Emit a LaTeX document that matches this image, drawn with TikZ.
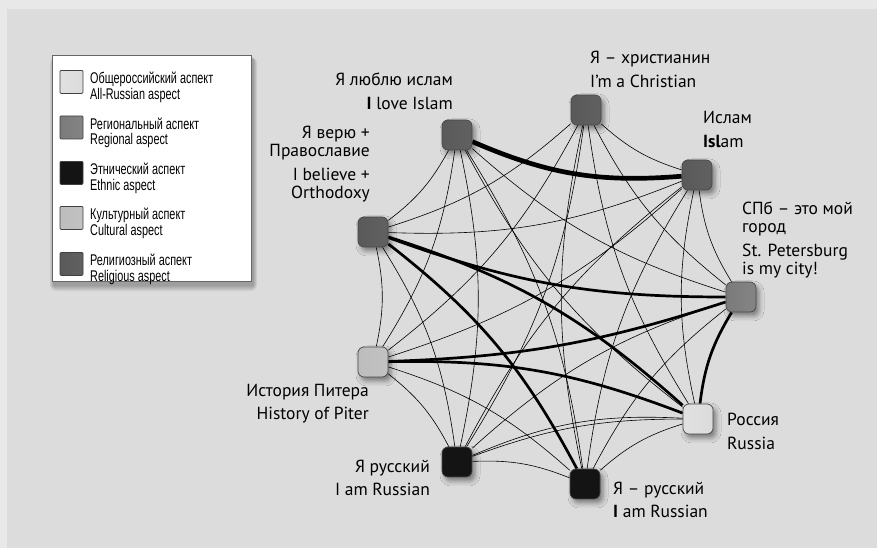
\documentclass[tikz,border=0pt]{standalone}
\usepackage{fontspec}
\setmainfont{PT Sans}
\newfontfamily\legfont[FakeStretch=0.7]{Liberation Sans}
\usetikzlibrary{shadows.blur}
\pgfdeclarelayer{edges}
\pgfdeclarelayer{fore}
\pgfsetlayers{main,edges,fore}
\definecolor{outerbg}{HTML}{E8E8E8}
\definecolor{innerbg}{HTML}{DCDCDC}
\tikzset{
  x=1pt, y=1pt,
  nd/.style={draw=black!72, line width=0.7pt, rounded corners=6pt, minimum size=30pt,
    inner sep=0pt, blur shadow={shadow xshift=3pt, shadow yshift=-4pt, shadow blur radius=5pt, shadow opacity=45}},
  relig/.style={left color=black!65, middle color=black!42, right color=black!62},
  regio/.style={left color=black!52, middle color=black!28, right color=black!48},
  ethn/.style={left color=black!92, middle color=black!68, right color=black!92},
  cult/.style={left color=black!26, middle color=black!8, right color=black!24},
  allru/.style={left color=black!12, middle color=white, right color=black!14},
  sw/.style={draw=black!75, line width=0.7pt, rounded corners=1pt, minimum size=23pt, inner sep=0pt},
  lab/.style={inner sep=0pt, font=\fontsize{17.5}{19}\selectfont},
  legtxt/.style={inner sep=0pt, anchor=base west, text height=10pt, text depth=2.5pt,
    font=\legfont\fontsize{15.5}{15}\selectfont},
  thinedge/.style={line width=0.6pt},
  heavyedge/.style={line width=2.7pt},
  heaviest/.style={line width=4.7pt},
  bl/.style={bend left=12},
  br/.style={bend right=12}
}
\begin{document}
\begin{tikzpicture}
\fill[outerbg] (0,0) rectangle (877,548);
\fill[innerbg] (7,0) rectangle (877,539);
\useasboundingbox (0,0) rectangle (877,548);

% legend shadow
\foreach \k in {1,...,7}{
  \fill[black, opacity=0.045, rounded corners=\k pt] ({54-0.6*\k},{263-0.9*\k}) rectangle ({253+0.6*\k},{489+0.3*\k});
}

\begin{pgfonlayer}{fore}
% legend
\node[draw=black!60, fill=white, line width=0.7pt, minimum width=199pt, minimum height=226pt, inner sep=0pt] (legend) at (151.5,380) {};
\node[sw, allru] (s1) at (71.5,466) {};
\node[sw, regio] (s2) at (71.5,420.5) {};
\node[sw, ethn] (s3) at (71.5,375) {};
\node[sw, cult] (s4) at (71.5,330) {};
\node[sw, relig] (s5) at (71.5,284) {};
\node[legtxt] (t1a) at (90,464.2) {Общероссийский аспект};
\node[legtxt] (t1b) at (90,448.7) {All-Russian aspect};
\node[legtxt] (t2a) at (90,418.7) {Региональный аспект};
\node[legtxt] (t2b) at (90,403.2) {Regional aspect};
\node[legtxt] (t3a) at (90,373.2) {Этнический аспект};
\node[legtxt] (t3b) at (90,357.7) {Ethnic aspect};
\node[legtxt] (t4a) at (90,328.2) {Культурный аспект};
\node[legtxt] (t4b) at (90,312.7) {Cultural aspect};
\node[legtxt] (t5a) at (90,282.2) {Религиозный аспект};
\node[legtxt] (t5b) at (90,266.7) {Religious aspect};

% graph nodes
\node[nd, relig] (C) at (586,438) {};
\node[nd, relig] (L) at (457,413) {};
\node[nd, relig] (I) at (697,373) {};
\node[nd, relig] (B) at (373,316) {};
\node[nd, regio] (S) at (741,251) {};
\node[nd, cult]  (H) at (373,186) {};
\node[nd, allru] (R) at (698,129) {};
\node[nd, ethn]  (P) at (457,86) {};
\node[nd, ethn]  (Q) at (585,64) {};

% labels
\node[lab, anchor=base east] (Ll1) at (453,462) {Я люблю ислам};
\node[lab, anchor=base east] (Ll2) at (453,438) {{\bfseries I} love Islam};
\node[lab, anchor=base west] (Cl1) at (590,484) {Я – христианин};
\node[lab, anchor=base west] (Cl2) at (590,460) {I'm a Christian};
\node[lab, anchor=base west] (Il1) at (703,424) {Ислам};
\node[lab, anchor=base west] (Il2) at (703,400) {{\bfseries Isl}am};
\node[lab, anchor=base west] (Sl1) at (742,333) {СПб – это мой};
\node[lab, anchor=base west] (Sl2) at (742,315) {город};
\node[lab, anchor=base west] (Sl3) at (742,291) {St. Petersburg};
\node[lab, anchor=base west] (Sl4) at (742,273) {is my city!};
\node[lab, anchor=base east] (Bl1) at (370,409) {Я верю +};
\node[lab, anchor=base east] (Bl2) at (370,391) {Православие};
\node[lab, anchor=base east] (Bl3) at (370,367) {I believe +};
\node[lab, anchor=base east] (Bl4) at (370,349) {Orthodoxy};
\node[lab, anchor=base east] (Hl1) at (369,151) {История Питера};
\node[lab, anchor=base east] (Hl2) at (369,128) {History of Piter};
\node[lab, anchor=base east] (Pl1) at (430,75) {Я русский};
\node[lab, anchor=base east] (Pl2) at (430,52) {I am Russian};
\node[lab, anchor=base west] (Rl1) at (727,122) {Россия};
\node[lab, anchor=base west] (Rl2) at (727,98) {Russia};
\node[lab, anchor=base west] (Ql1) at (613,53) {Я – русский};
\node[lab, anchor=base west] (Ql2) at (613,30) {{\bfseries I} am Russian};
\end{pgfonlayer}

% edges
\begin{pgfonlayer}{edges}
\begin{scope}[thinedge]
  \draw (C) to[bl] (B);
  \draw (C) to[bl] (H);
  \draw (C) to[bl] (P);
  \draw (Q) to[bl] (C);
  \draw (R) to[bl] (C);
  \draw (S) to[bl] (C);
  \draw (I) to[bl] (C);
  \draw (L) to[bl] (B);
  \draw (L) to[bl] (H);
  \draw (L) to[bl] (P);
  \draw (L) to[bl] (Q);
  \draw (R) to[bl] (L);
  \draw (S) to[bl] (L);
  \draw (B) to[bl] (H);
  \draw (B) to[bl] (P);
  \draw (I) to[bl] (B);
  \draw (H) to[bl] (P);
  \draw (H) to[bl] (Q);
  \draw (I) to[bl] (H);
  \draw (P) to[bl] (Q);
  \draw (P) to[bend left=10] (R);
  \draw (P) to[bend left=13] (R);
  \draw (P) to[bl] (S);
  \draw (P) to[bl] (I);
  \draw (Q) to[bl] (R);
  \draw (Q) to[bl] (S);
  \draw (Q) to[bl] (I);
  \draw (R) to[bl] (I);
  \draw (S) to[bl] (I);
\end{scope}
\draw[heaviest] (I) to[bend left=14] (L);
\draw[heavyedge] (B) to[bl] (Q);
\draw[heavyedge] (B) to[bl] (R);
\draw[heavyedge] (S) to[bend left=10] (B);
\draw[heavyedge] (H) to[bend left=11] (R);
\draw[heavyedge] (H) to[bend right=8] (S);
\draw[heavyedge] (R) to[bl] (S);
\end{pgfonlayer}
\end{tikzpicture}
\end{document}
